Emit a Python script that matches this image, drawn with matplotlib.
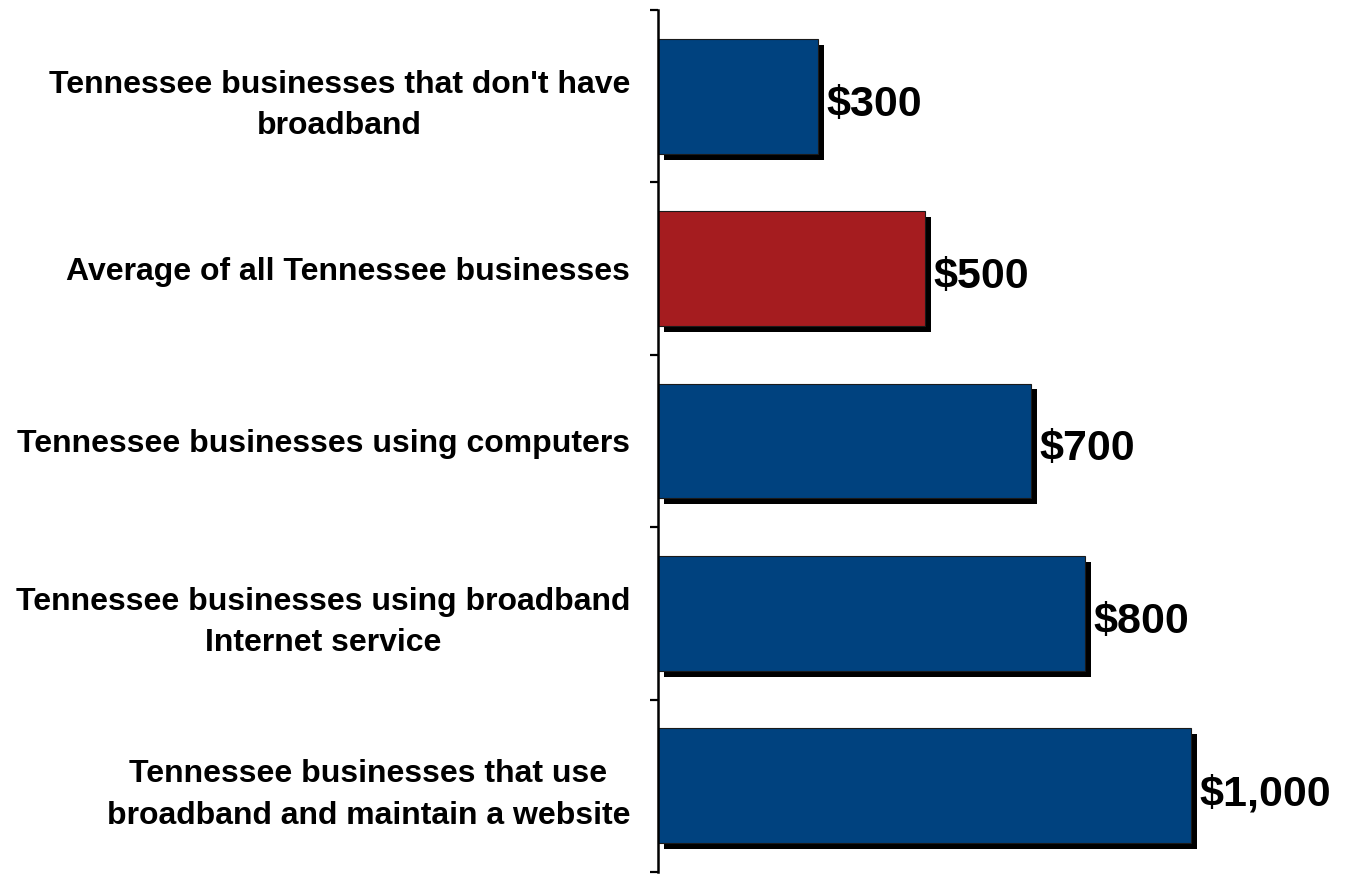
import numpy as np
import matplotlib.pyplot as plt
import matplotlib.patheffects as pe

categories = [
    "Tennessee businesses that don't have\nbroadband",
    "Average of all Tennessee businesses",
    "Tennessee businesses using computers",
    "Tennessee businesses using broadband\nInternet service",
    "Tennessee businesses that use\nbroadband and maintain a website",
]
values = [300, 500, 700, 800, 1000]
value_labels = ["$300", "$500", "$700", "$800", "$1,000"]
colors = ["#00427f", "#a51c1f", "#00427f", "#00427f", "#00427f"]

plt.rcParams["font.family"] = ["Liberation Sans", "DejaVu Sans"]

fig = plt.figure(figsize=(13.47, 8.74), dpi=100)
ax = fig.add_axes([658 / 1347, 2 / 874, 640 / 1347, 862 / 874])

y = np.arange(len(categories))
bars = ax.barh(y, values, height=0.667, color=colors, edgecolor="#1a1a1a",
               linewidth=0.8)
for b in bars:
    b.set_path_effects([
        pe.SimplePatchShadow(offset=(4.3, -4.3), shadow_rgbFace="black", alpha=1.0),
        pe.Normal(),
    ])

for yi, v, lab in zip(y, values, value_labels):
    ax.annotate(lab, (v, yi), xytext=(6, -6), textcoords="offset points",
                ha="left", va="center", fontsize=31, fontweight="bold")

ax.set_xlim(0, 1200)
ax.set_ylim(len(categories) - 0.5, -0.5)

ax.set_yticks(y)
ax.set_yticklabels(categories, fontsize=23, fontweight="bold",
                   multialignment="center", linespacing=1.5)
ax.tick_params(axis="y", which="major", length=0, pad=20)
ax.set_yticks(np.arange(-0.5, len(categories)), minor=True)
ax.tick_params(axis="y", which="minor", length=6, width=1.6, direction="out")
ax.set_xticks([])

for s in ["top", "right", "bottom"]:
    ax.spines[s].set_visible(False)
ax.spines["left"].set_linewidth(1.8)

fig.savefig("out.png", dpi=100)
